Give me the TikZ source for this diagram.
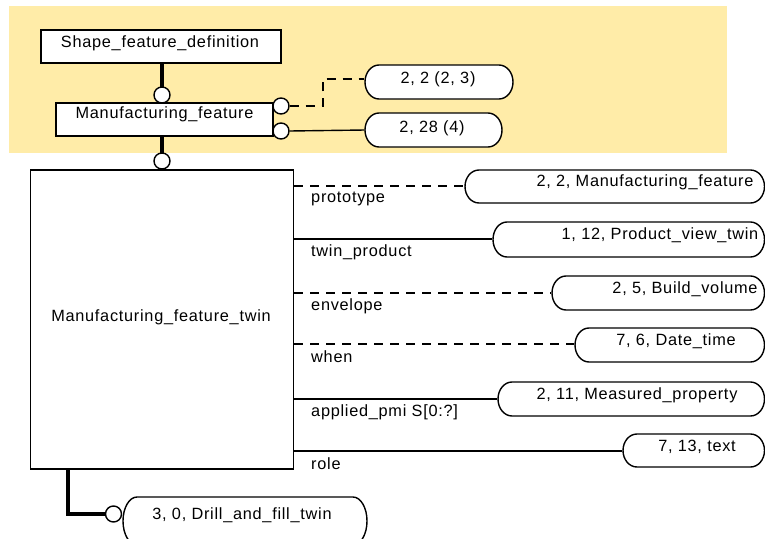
\documentclass[tikz,border=0pt]{standalone}
\usepackage{fontspec}
\setmainfont[LetterSpace=4.5]{Liberation Sans}
\newcommand{\stadium}[4]{% xl, yt, xr, yb
  \draw[line width=1.4pt,fill=white] (#1+14,#2)
    arc[start angle=270,end angle=90,x radius=14,y radius={(#4-#2)/2}]
    -- (#3-14,#4)
    arc[start angle=90,end angle=-90,x radius=14,y radius={(#4-#2)/2}]
    -- cycle;}
\begin{document}
\begin{tikzpicture}[x=1pt,y=-1pt,
  box/.style={draw,line width=1.4pt,fill=white,inner sep=0pt},
  txt/.style={inner sep=0pt,font=\fontsize{16.3}{18}\selectfont},
  lbl/.style={inner sep=0pt,anchor=west,font=\fontsize{16.3}{18}\selectfont},
  thinline/.style={line width=1.4pt},
  thickline/.style={line width=4pt},
  dashline/.style={line width=1.4pt,dash pattern=on 9pt off 7pt},
  ring/.style={draw,line width=1.4pt,fill=white,circle,minimum size=16pt,inner sep=0pt}]
\useasboundingbox (0,0) rectangle (765,538);
\fill[fill={rgb,255:red,255;green,236;blue,168}] (9,6) rectangle (727,153);

% connectors
\coordinate (sfdb) at (162,63);
\coordinate (mfb) at (162,136);
\coordinate (d1) at (323,106);
\coordinate (d2) at (323,79);
\draw[thickline] (sfdb) -- (162,90);
\draw[thickline] (mfb) -- (162,155);
\node[ring] (c1) at (162,95) {};
\node[ring] (c2) at (162,161) {};

% boxes
\node[box,minimum width=240pt,minimum height=33pt] (sfd) at (161,46.5) {};
\node[txt] (sfdt) at (160,43) {Shape\_feature\_definition};
\node[box,minimum width=217pt,minimum height=33pt] (mf) at (164.5,119.5) {};
\node[txt] (mftx) at (164.5,114) {Manufacturing\_feature};
\node[box,minimum width=263pt,minimum height=299pt] (tw) at (162,319.5) {};
\node[txt] (twtx) at (161,317) {Manufacturing\_feature\_twin};

% MF right circles and ovals
\node[ring] (r1) at (281,106) {};
\node[ring] (r2) at (281,131) {};
\stadium{365}{65}{513}{99}
\node[inner sep=0pt] (o1) at (365,79) {};
\node[txt] (o1t) at (438,79) {2, 2 (2, 3)};
\stadium{365}{113}{502}{147}
\node[inner sep=0pt] (o2) at (365,130) {};
\node[txt] (o2t) at (432,128) {2, 28 (4)};
\draw[dashline] (r1.east) -- (d1) -- (d2) -- (o1);
\draw[thinline] (r2.east) -- (o2);

% twin attributes
\foreach \n/\yl/\xo/\yt/\yb/\tx/\ty/\t/\l/\st in {
  a/186/465/170/203/645/182/{2, 2, Manufacturing\_feature}/prototype/dashline,
  b/239/493/222/257/660/235/{1, 12, Product\_view\_twin}/twin\_product/thinline,
  c/293/552/276/310/685/289/{2, 5, Build\_volume}/envelope/dashline,
  d/344/575/328/362/676/341/{7, 6, Date\_time}/when/dashline,
  e/399/498/382/416/637/395/{2, 11, Measured\_property}/{applied\_pmi S[0:?]}/thinline,
  f/451/623/434/467/697/447/{7, 13, text}/role/thinline}{
  \stadium{\xo}{\yt}{764.5}{\yb}
  \node[inner sep=0pt] (ov\n) at (\xo,\yl) {};
  \node[txt] (ot\n) at (\tx,\ty) {\t};
  \coordinate (ts\n) at (294,\yl);
  \draw[\st] (ts\n) -- (ov\n);
  \node[lbl] (lb\n) at (311,\yl+13) {\l};
}

% drill and fill
\coordinate (twb) at (68,469);
\coordinate (dc) at (68,514);
\node[ring] (c3) at (113.5,514) {};
\draw[thickline] (twb) -- (dc) -- (c3.west);
\stadium{123}{497}{367}{545}
\node[txt] (dft) at (242,515) {3, 0, Drill\_and\_fill\_twin};
\end{tikzpicture}
\end{document}
